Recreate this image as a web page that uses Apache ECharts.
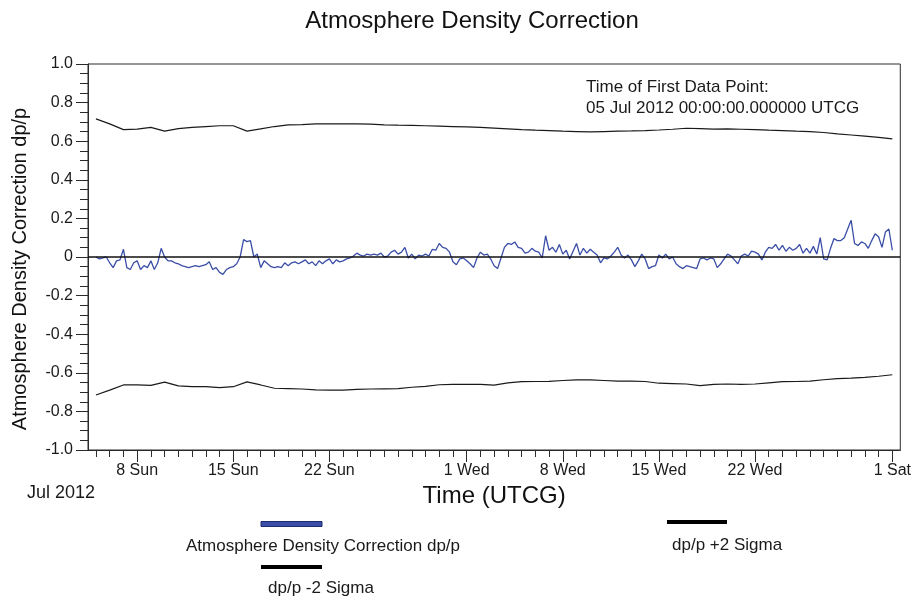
<!DOCTYPE html>
<html>
<head>
<meta charset="utf-8">
<script src="https://cdn.jsdelivr.net/npm/echarts@6/dist/echarts.min.js"></script>
<style>html,body{margin:0;padding:0;background:#fff}#c{width:914px;height:598px}</style>
</head>
<body>
<div id="c"></div>
<script>
// ---- data ----
const blueStart = '2012-07-05T00:00:00Z';
const blueStepHours = 6;
const blueValues = [
 0.00,-0.01,-0.005,0.0,-0.03,-0.055,-0.02,-0.015,0.04,-0.055,
 -0.065,-0.03,-0.02,-0.065,-0.045,-0.055,-0.02,-0.065,-0.03,0.045,
 0.0,-0.02,-0.02,-0.03,-0.035,-0.045,-0.05,-0.055,-0.05,-0.045,
 -0.05,-0.045,-0.04,-0.025,-0.065,-0.055,-0.08,-0.09,-0.065,-0.055,
 -0.05,-0.035,0.0,0.09,0.08,0.085,0.0,0.015,-0.055,-0.02,
 -0.035,-0.05,-0.055,-0.05,-0.055,-0.03,-0.045,-0.03,-0.025,-0.035,
 -0.025,-0.015,-0.035,-0.025,-0.045,-0.02,-0.035,-0.02,-0.01,-0.035,
 -0.015,-0.025,-0.02,-0.01,-0.005,0.005,0.02,0.01,0.005,0.015,
 0.01,0.015,0.01,0.02,0.0,0.005,0.025,0.035,0.015,0.025,
 0.05,-0.005,0.015,-0.01,0.01,0.005,0.015,0.005,0.04,0.035,
 0.07,0.05,0.045,0.025,-0.025,-0.04,-0.01,-0.005,-0.02,-0.035,
 -0.055,-0.005,0.025,0.01,0.015,-0.01,-0.045,-0.06,-0.005,0.05,
 0.07,0.065,0.078,0.05,0.045,0.02,0.025,0.045,0.03,0.025,
 -0.005,0.11,0.035,0.05,0.025,0.065,0.015,0.035,-0.01,0.03,
 0.07,0.01,0.045,0.02,0.04,0.025,0.01,-0.03,-0.005,-0.01,
 0.005,0.025,0.05,0.01,-0.005,0.01,-0.015,-0.05,-0.02,0.015,
 -0.01,-0.06,-0.05,-0.045,0.01,-0.005,0.015,-0.01,0.0,-0.035,
 -0.05,-0.06,-0.045,-0.05,-0.055,-0.06,-0.01,-0.005,-0.015,-0.005,
 -0.01,-0.055,-0.035,-0.01,0.015,0.005,-0.015,-0.035,0.005,0.015,
 0.005,0.03,0.025,0.015,-0.015,0.025,0.05,0.045,0.065,0.035,
 0.06,0.03,0.05,0.035,0.045,0.065,0.02,0.045,0.02,0.055,
 0.015,0.10,-0.01,-0.015,0.045,0.095,0.085,0.085,0.10,0.145,
 0.19,0.07,0.06,0.078,0.07,0.045,0.085,0.12,0.105,0.05,
 0.13,0.145,0.035
];
const sigmaStart = '2012-07-05T00:00:00Z';
const sigmaStepHours = 24;
const plusTwoSigma = [
 0.716,0.69,0.66,0.663,0.672,0.652,0.665,0.672,0.676,0.68,
 0.68,0.652,0.664,0.676,0.685,0.686,0.69,0.69,0.69,0.69,
 0.688,0.685,0.683,0.682,0.68,0.678,0.676,0.674,0.672,0.668,
 0.664,0.66,0.657,0.655,0.652,0.65,0.648,0.65,0.652,0.653,
 0.655,0.658,0.662,0.667,0.665,0.663,0.664,0.662,0.66,0.657,
 0.655,0.652,0.65,0.645,0.638,0.632,0.626,0.62,0.612
];
const minusTwoSigma = [
 -0.715,-0.69,-0.663,-0.663,-0.665,-0.648,-0.668,-0.672,-0.672,-0.677,
 -0.672,-0.647,-0.663,-0.68,-0.682,-0.684,-0.688,-0.69,-0.69,-0.686,
 -0.684,-0.683,-0.682,-0.675,-0.67,-0.662,-0.66,-0.66,-0.66,-0.664,
 -0.652,-0.646,-0.645,-0.644,-0.64,-0.637,-0.637,-0.64,-0.643,-0.643,
 -0.645,-0.654,-0.656,-0.658,-0.666,-0.66,-0.658,-0.66,-0.658,-0.652,
 -0.646,-0.645,-0.643,-0.636,-0.63,-0.628,-0.624,-0.618,-0.61
];
const tickDates = ['2012-07-08','2012-07-15','2012-07-22','2012-08-01','2012-08-08','2012-08-15','2012-08-22','2012-09-01'];
const tickLabels = ['8 Sun','15 Sun','22 Sun','1 Wed','8 Wed','15 Wed','22 Wed','1 Sat'];
const xMinTime = '2012-07-04T10:05:00Z';
const xMaxTime = '2012-09-01T13:55:00Z';
const firstDay = '2012-07-05';
const lastDay = '2012-09-01';
const seriesNames = ['Atmosphere Density Correction dp/p', 'dp/p +2 Sigma', 'dp/p -2 Sigma'];

// ---- build ----
const H = 3600000, DAY = 86400000;
const FONT = 'Liberation Sans, Arial, sans-serif';
const bStart = Date.parse(blueStart), sStart = Date.parse(sigmaStart);
const blueData = blueValues.map((v, i) => [bStart + i * blueStepHours * H, v]);
const plusData = plusTwoSigma.map((v, i) => [sStart + i * sigmaStepHours * H, v]);
const minusData = minusTwoSigma.map((v, i) => [sStart + i * sigmaStepHours * H, v]);
const majorTs = tickDates.map(d => Date.parse(d + 'T00:00:00Z'));
const minorTs = [];
for (let t = Date.parse(firstDay + 'T00:00:00Z'); t <= Date.parse(lastDay + 'T00:00:00Z'); t += DAY) minorTs.push(t);
const xMin = Date.parse(xMinTime), xMax = Date.parse(xMaxTime);

const chart = echarts.init(document.getElementById('c'), null, {renderer: 'canvas'});
const axisCol = '#2a2a2a';
chart.setOption({
  animation: false,
  backgroundColor: '#ffffff',
  title: {
    text: 'Atmosphere Density Correction',
    left: 472, textAlign: 'center', top: 9, padding: 0,
    textStyle: {fontFamily: FONT, fontSize: 24, fontWeight: 'normal', color: '#111'}
  },
  grid: {left: 88, right: 12, top: 64, bottom: 148, show: true, borderColor: axisCol, borderWidth: 1, backgroundColor: 'transparent'},
  xAxis: [{
    type: 'value', min: xMin, max: xMax, scale: true,
    axisLine: {show: true, onZero: false, lineStyle: {color: axisCol, width: 1}},
    axisTick: {show: true, customValues: majorTs, length: 12, lineStyle: {color: axisCol}},
    axisLabel: {show: true, customValues: majorTs, margin: 13, fontFamily: FONT, fontSize: 16, color: '#1a1a1a',
      formatter: v => { const k = majorTs.findIndex(t => Math.abs(t - v) < H); return k >= 0 ? tickLabels[k] : ''; }},
    splitLine: {show: false},
    name: 'Time (UTCG)', nameLocation: 'middle', nameGap: 32,
    nameTextStyle: {fontFamily: FONT, fontSize: 24, color: '#111'}
  }, {
    type: 'value', min: xMin, max: xMax, scale: true, position: 'bottom',
    axisLine: {show: false, onZero: false},
    axisTick: {show: true, customValues: minorTs, length: 7, lineStyle: {color: axisCol}},
    axisLabel: {show: false},
    splitLine: {show: false}
  }],
  yAxis: {
    type: 'value', min: -1, max: 1, interval: 0.2,
    axisLine: {show: true, onZero: false, lineStyle: {color: axisCol}},
    axisTick: {show: true, length: 12, lineStyle: {color: axisCol}},
    minorTick: {show: true, splitNumber: 4, length: 8, lineStyle: {color: axisCol}},
    axisLabel: {margin: 15, fontFamily: FONT, fontSize: 16, color: '#1a1a1a',
      formatter: v => Math.abs(v) < 1e-9 ? '0' : v.toFixed(1)},
    splitLine: {show: false}, minorSplitLine: {show: false}
  },
  series: [{
    name: seriesNames[1], type: 'line', data: plusData, showSymbol: false, symbol: 'none',
    lineStyle: {color: '#1a1a1a', width: 1.2}, z: 3,
    markLine: {silent: true, symbol: ['none', 'none'], label: {show: false},
      lineStyle: {color: '#111', width: 1.5, type: 'solid'}, data: [{yAxis: 0}]}
  }, {
    name: seriesNames[2], type: 'line', data: minusData, showSymbol: false, symbol: 'none',
    lineStyle: {color: '#1a1a1a', width: 1.2}, z: 3
  }, {
    name: seriesNames[0], type: 'line', data: blueData, showSymbol: false, symbol: 'none',
    lineStyle: {color: '#3a4ea8', width: 1.3}, z: 4
  }],
  graphic: [
    {type: 'text', x: 20, y: 269, rotation: Math.PI / 2,
      style: {text: 'Atmosphere Density Correction dp/p', font: '20px ' + FONT, fill: '#111', textAlign: 'center', textVerticalAlign: 'middle'}},
    {type: 'text', x: 27, y: 493, style: {text: 'Jul 2012', font: '18px ' + FONT, fill: '#1a1a1a', textAlign: 'left', textVerticalAlign: 'middle'}},
    {type: 'text', x: 586, y: 87, style: {text: 'Time of First Data Point:', font: '17px ' + FONT, fill: '#1a1a1a', textAlign: 'left', textVerticalAlign: 'middle'}},
    {type: 'text', x: 586, y: 108, style: {text: '05 Jul 2012 00:00:00.000000 UTCG', font: '17px ' + FONT, fill: '#1a1a1a', textAlign: 'left', textVerticalAlign: 'middle'}},
    {type: 'rect', shape: {x: 261, y: 521.5, width: 61, height: 5}, style: {fill: '#3a4ea8', stroke: '#1c2a6e', lineWidth: 1}},
    {type: 'text', x: 186, y: 546, style: {text: seriesNames[0], font: '17px ' + FONT, fill: '#1a1a1a', textAlign: 'left', textVerticalAlign: 'middle'}},
    {type: 'rect', shape: {x: 261, y: 565, width: 61, height: 4}, style: {fill: '#000'}},
    {type: 'text', x: 268, y: 588, style: {text: seriesNames[2], font: '17px ' + FONT, fill: '#1a1a1a', textAlign: 'left', textVerticalAlign: 'middle'}},
    {type: 'rect', shape: {x: 667, y: 520, width: 60, height: 4}, style: {fill: '#000'}},
    {type: 'text', x: 672, y: 545, style: {text: seriesNames[1], font: '17px ' + FONT, fill: '#1a1a1a', textAlign: 'left', textVerticalAlign: 'middle'}}
  ]
});
</script>
</body>
</html>
